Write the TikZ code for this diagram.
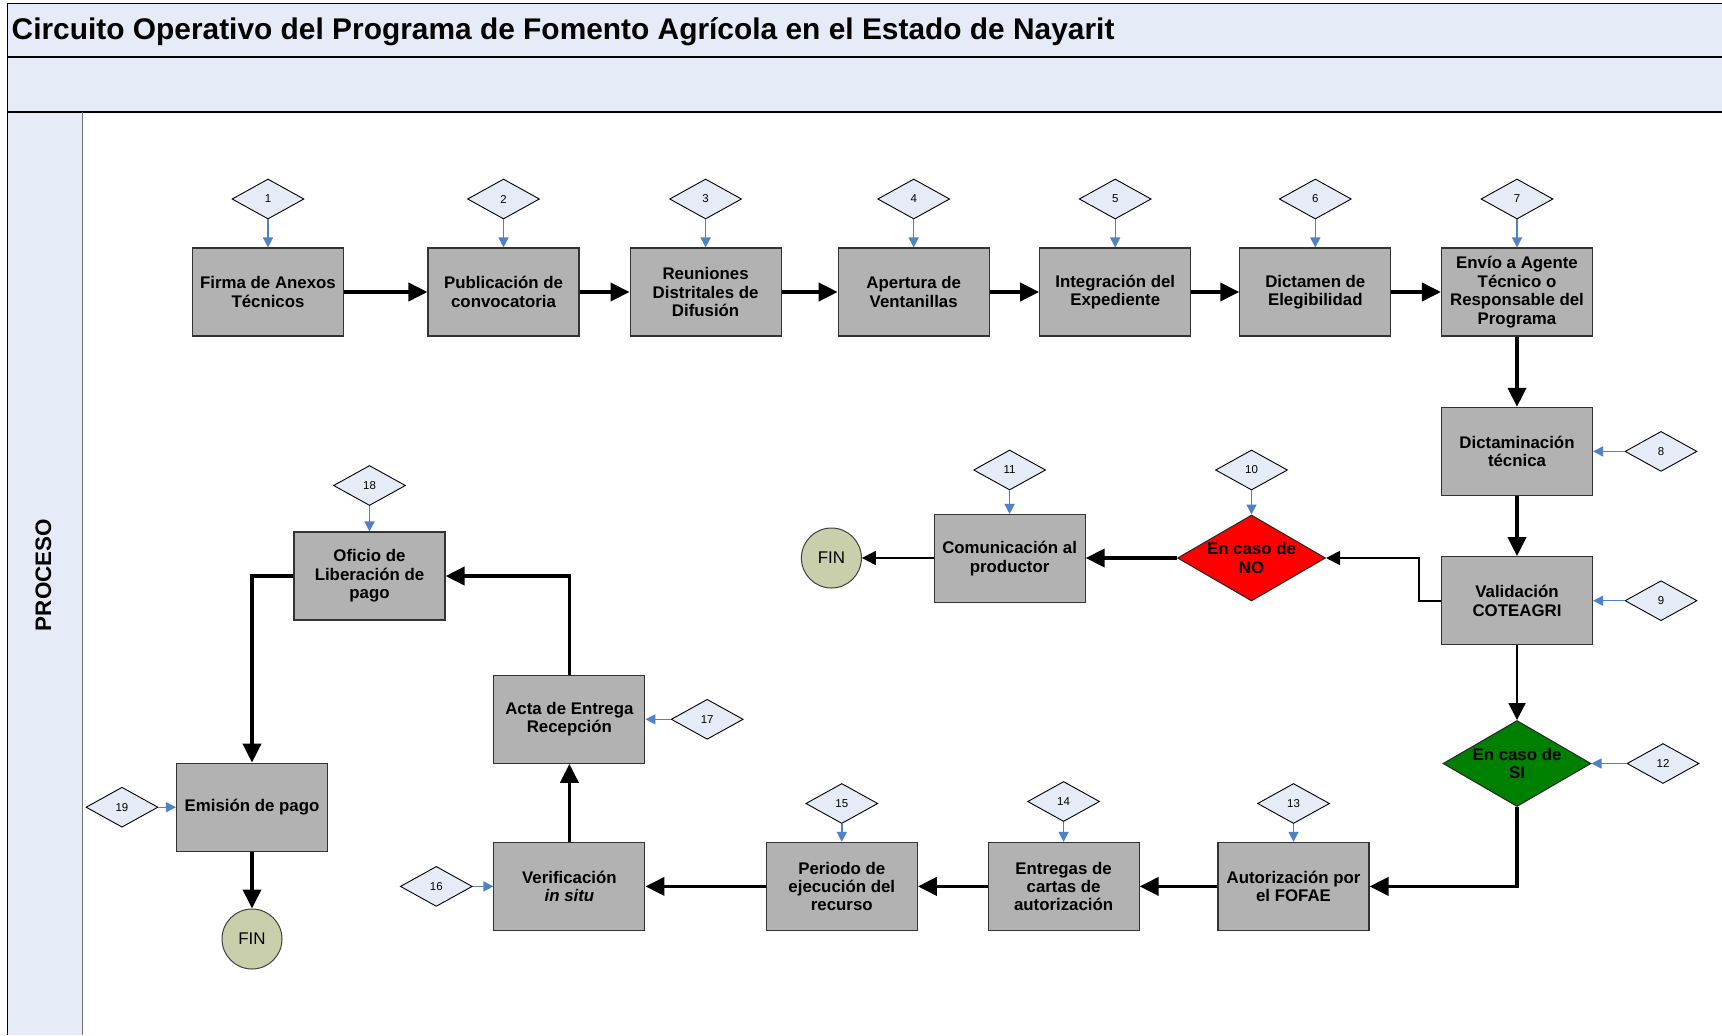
\documentclass[tikz,border=0pt]{standalone}
\usepackage{fontspec}
\setmainfont{Liberation Sans}
\usetikzlibrary{shapes.geometric,arrows.meta}
\definecolor{bandblue}{RGB}{230,236,247}
\definecolor{boxgray}{RGB}{178,178,178}
\definecolor{finfill}{RGB}{200,207,170}
\definecolor{linkblue}{RGB}{79,129,199}
\definecolor{nored}{RGB}{255,0,0}
\definecolor{sigreen}{RGB}{0,128,0}
\begin{document}
\begin{tikzpicture}[x=1bp,y=-1bp,
 proc/.style={rectangle, draw=black!80, line width=1.1bp, fill=boxgray, minimum width=151bp, minimum height=88bp, inner sep=0pt, align=center, font=\bfseries\fontsize{16.9}{18.5}\selectfont},
 decis/.style={diamond, draw=black!85, line width=1bp, shape aspect=1.72, minimum width=148bp, minimum height=86bp, inner sep=0pt, align=center, font=\bfseries\fontsize{16.9}{19}\selectfont},
 numd/.style={diamond, draw=black, line width=0.9bp, fill=bandblue, minimum width=72bp, minimum height=40bp, inner sep=0pt, font=\fontsize{11.5}{13}\selectfont},
 finc/.style={circle, draw=black!75, line width=1bp, fill=finfill, minimum size=60bp, inner sep=0pt, font=\fontsize{17}{20}\selectfont},
 thickarr/.style={line width=3.8bp, -{Triangle[length=19bp,width=18bp]}},
 thinarr/.style={line width=2bp, -{Triangle[length=14bp,width=14bp]}},
 bluearr/.style={draw=linkblue, line width=1.4bp, -{Triangle[length=10bp,width=10bp]}},
]
\useasboundingbox (0,0) rectangle (1722,1035);
\fill[white] (0,0) rectangle (1722,1035);
% bands and lane
\fill[bandblue] (7.7,3.3) rectangle (1722,112);
\fill[bandblue] (7.7,112) rectangle (82.4,1035);
\draw[line width=1.3bp] (1722,3.3) -- (7.7,3.3) -- (7.7,1035);
\draw[line width=1.3bp] (7.7,57) -- (1722,57);
\draw[line width=1.3bp] (7.7,112) -- (1722,112);
\draw[line width=1bp, black!55] (82.4,112) -- (82.4,1035);
\node[anchor=base west, inner sep=0pt, font=\bfseries\fontsize{30}{35}\selectfont] (title) at (11.5,39.5) {Circuito Operativo del Programa de Fomento Agrícola en el Estado de Nayarit};
\node[rotate=90, inner sep=0pt, font=\bfseries\fontsize{22.5}{26}\selectfont] (proceso) at (43.5,575) {PROCESO};

% process boxes
\node[proc] (b1) at (268,292) {Firma de Anexos\\Técnicos};
\node[proc] (b2) at (503.5,292) {Publicación de\\convocatoria};
\node[proc] (b3) at (705.6,292) {Reuniones\\Distritales de\\Difusión};
\node[proc] (b4) at (913.7,292) {Apertura de\\Ventanillas};
\node[proc] (b5) at (1115.2,292) {Integración del\\Expediente};
\node[proc] (b6) at (1315.3,292) {Dictamen de\\Elegibilidad};
\node[proc] (b7) at (1517,292) {Envío a Agente\\Técnico o\\Responsable del\\Programa};
\node[proc] (b8) at (1517,451.4) {Dictaminación\\técnica};
\node[proc] (b9) at (1517,600.7) {Validación\\COTEAGRI};
\node[decis, fill=nored] (dno) at (1251.5,558) {En caso de\\NO};
\node[proc] (b11) at (1009.6,558.5) {Comunicación al\\productor};
\node[finc] (fin1) at (831.4,558) {FIN};
\node[decis, fill=sigreen] (dsi) at (1517,763.5) {En caso de\\SI};
\node[proc] (b13) at (1293.5,886.4) {Autorización por\\el FOFAE};
\node[proc] (b14) at (1063.6,886.4) {Entregas de\\cartas de\\autorización};
\node[proc] (b15) at (841.8,886.4) {Periodo de\\ejecución del\\recurso};
\node[proc] (b16) at (569.4,886.4) {Verificación\\\textit{in situ}};
\node[proc] (b17) at (569.4,719.3) {Acta de Entrega\\Recepción};
\node[proc] (b18) at (369.5,576) {Oficio de\\Liberación de\\pago};
\node[proc] (b19) at (252,807.2) {Emisión de pago};
\node[finc] (fin2) at (252,939) {FIN};

% number diamonds
\node[numd] (n1) at (268,199) {1};
\node[numd] (n2) at (503.5,199) {2};
\node[numd] (n3) at (705.6,199) {3};
\node[numd] (n4) at (913.7,199) {4};
\node[numd] (n5) at (1115.2,199) {5};
\node[numd] (n6) at (1315.3,199) {6};
\node[numd] (n7) at (1517,199) {7};
\node[numd] (n8) at (1661,451.4) {8};
\node[numd] (n9) at (1661,600.7) {9};
\node[numd] (n10) at (1251.5,470) {10};
\node[numd] (n11) at (1009.6,470) {11};
\node[numd] (n12) at (1663,763.5) {12};
\node[numd] (n13) at (1293.5,803.5) {13};
\node[numd] (n14) at (1063.6,801.5) {14};
\node[numd] (n15) at (841.8,803.5) {15};
\node[numd] (n16) at (436.3,886.4) {16};
\node[numd] (n17) at (707.2,719.3) {17};
\node[numd] (n18) at (369.5,485.5) {18};
\node[numd] (n19) at (122,807.2) {19};

% blue connectors
\foreach \a/\b in {n1/b1,n2/b2,n3/b3,n4/b4,n5/b5,n6/b6,n7/b7,n10/dno,n11/b11,n13/b13,n14/b14,n15/b15,n18/b18}
  \draw[bluearr] (\a.south) -- (\b.north);
\foreach \a/\b in {n8/b8,n9/b9,n12/dsi,n17/b17}
  \draw[bluearr] (\a.west) -- (\b.east);
\foreach \a/\b in {n16/b16,n19/b19}
  \draw[bluearr] (\a.east) -- (\b.west);

% black connectors
\draw[thickarr] (b1) -- (b2);
\draw[thickarr] (b2) -- (b3);
\draw[thickarr] (b3) -- (b4);
\draw[thickarr] (b4) -- (b5);
\draw[thickarr] (b5) -- (b6);
\draw[thickarr] (b6) -- (b7);
\draw[thickarr] (b7) -- (b8);
\draw[thickarr] (b8) -- (b9);
\draw[thinarr] (b9.west) -- ++(-22,0) |- (dno.east);
\draw[thickarr] (dno.west) -- (b11.east |- dno.west);
\draw[thinarr] (b11.west |- fin1.east) -- (fin1.east);
\draw[line width=2bp, -{Triangle[length=17bp,width=17bp]}] (b9.south) -- (dsi.north);
\draw[thickarr] (dsi.south) |- (b13.east);
\draw[thickarr] (b13) -- (b14);
\draw[thickarr] (b14) -- (b15);
\draw[thickarr] (b15) -- (b16);
\draw[thickarr] (b16) -- (b17);
\draw[thickarr] (b17.north) |- (b18.east);
\draw[thickarr] (b18.west) -| (b19.north);
\draw[thickarr] (b19) -- (fin2);
\end{tikzpicture}
\end{document}
